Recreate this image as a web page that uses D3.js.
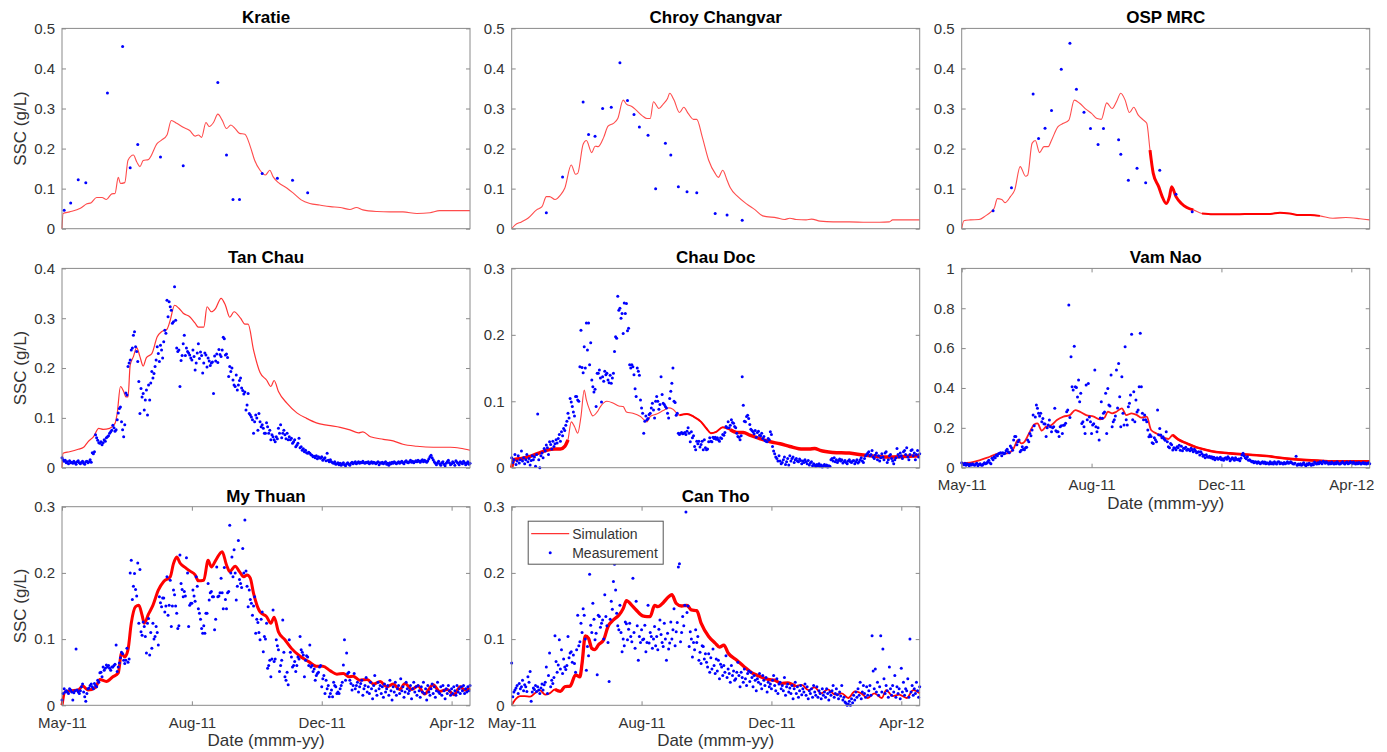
<!DOCTYPE html>
<html>
<head>
<meta charset="utf-8">
<script src="https://cdn.jsdelivr.net/npm/d3@7"></script>
<style>
  body { margin: 0; background: #fff; }
  svg { display: block; font-family: "Liberation Sans", Arial, Helvetica, sans-serif; }
</style>
</head>
<body>
<svg id="chart" width="1387" height="752"></svg>
<script>
// ============================================================================
// DATA  (day = days since 1 May 2011, values in g/L)
// ============================================================================

const xTickDates = ["2011-05-01", "2011-08-29", "2011-12-27", "2012-04-25"];

const ticks05 = [0, 0.1, 0.2, 0.3, 0.4, 0.5];
const ticks04 = [0, 0.1, 0.2, 0.3, 0.4];
const ticks03 = [0, 0.1, 0.2, 0.3];
const ticks10 = [0, 0.2, 0.4, 0.6, 0.8, 1];

// --- simulation lines -------------------------------------------------------
const kratieSimDays = [0,1,7,17,23,27,32,37,41,46,49,52,54,58,61,66,69,72,75,80,88,92,97,101,106,112,118,123,126,129,133,136,140,144,148,152,156,160,164,169,174,178,183,188,192,195,200,208,214,221,229,238,248,257,266,272,278,291,303,315,328,340,349,362,377];
const kratieSimVals = [0,.038,.042,.051,.062,.065,.078,.078,.073,.087,.088,.128,.113,.115,.171,.184,.167,.155,.170,.173,.213,.221,.234,.270,.263,.253,.245,.231,.234,.228,.265,.255,.265,.286,.271,.250,.259,.250,.238,.236,.205,.171,.146,.134,.146,.130,.115,.101,.088,.072,.063,.059,.055,.053,.048,.053,.047,.043,.042,.042,.038,.040,.045,.045,.045];

const chroySimDays = [0,3,9,15,23,28,32,35,40,45,49,55,59,61,66,69,74,77,80,85,89,94,98,103,106,111,115,121,125,128,131,136,140,144,146,150,155,159,163,168,171,176,182,188,191,195,199,202,209,217,225,232,245,252,257,263,272,277,285,297,312,328,340,349,352,365,377];
const chroySimVals = [0,.009,.017,.026,.047,.055,.080,.080,.073,.084,.101,.159,.136,.138,.211,.220,.190,.206,.205,.228,.256,.263,.275,.321,.311,.305,.296,.281,.275,.275,.317,.300,.311,.325,.338,.321,.290,.303,.288,.273,.273,.230,.171,.138,.128,.146,.121,.102,.080,.062,.047,.032,.027,.023,.026,.023,.022,.024,.019,.017,.017,.016,.016,.017,.022,.022,.022];

const ospSimDays = [0,2,8,16,22,27,30,33,37,40,45,49,54,59,61,65,68,72,76,80,83,89,94,99,104,109,115,120,125,129,134,139,143,147,151,155,159,163,168,171,174,177,182,185,189,192,194,198,203,208,214,222,232,254,269,285,294,303,312,322,331,343,355,368,377];
const ospSimVals = [0,.020,.022,.023,.032,.042,.051,.075,.073,.065,.080,.097,.155,.131,.134,.213,.220,.190,.205,.205,.221,.255,.263,.271,.321,.313,.298,.288,.275,.273,.314,.300,.317,.338,.321,.290,.303,.284,.271,.263,.196,.138,.105,.082,.063,.080,.105,.080,.063,.053,.047,.038,.036,.036,.037,.037,.040,.038,.034,.034,.032,.026,.028,.025,.022];

const tanChauSimDays = [0,1,7,15,20,24,29,34,38,44,49,51,54,57,59,61,63,66,69,72,75,78,83,88,92,97,100,104,108,112,118,123,126,131,134,138,142,147,151,155,159,165,169,172,177,183,189,193,196,200,208,217,226,235,246,257,266,274,278,285,297,306,315,328,343,359,368,377];
const tanChauSimVals = [0,.029,.032,.037,.041,.052,.062,.079,.077,.079,.089,.109,.163,.153,.142,.142,.206,.223,.241,.223,.204,.221,.229,.263,.273,.278,.296,.326,.320,.310,.303,.290,.282,.282,.323,.313,.320,.340,.326,.302,.313,.300,.288,.288,.236,.191,.176,.163,.175,.153,.129,.110,.099,.090,.085,.081,.076,.070,.072,.062,.057,.054,.047,.043,.041,.041,.039,.035];

const chauDocSimDays = [0,2,9,17,25,32,40,45,49,52,55,58,61,64,67,69,72,75,79,82,88,94,99,103,106,112,119,125,128,134,140,145,149,155,162,168,175,180,184,189,195,202,208,214,220,229,239,248,257,269,275,280,285,297,312,325,337,349,362,377];
const chauDocSimVals = [0,.012,.014,.017,.022,.026,.028,.028,.032,.042,.069,.062,.052,.077,.117,.102,.087,.078,.084,.092,.100,.097,.093,.092,.084,.082,.077,.069,.077,.081,.086,.090,.088,.079,.081,.077,.069,.059,.052,.054,.061,.057,.053,.053,.049,.044,.039,.036,.032,.028,.028,.029,.026,.023,.022,.019,.017,.016,.017,.018];

const vamNaoSimDays = [0,8,17,26,35,42,48,52,55,58,63,67,70,74,78,83,88,94,100,105,109,115,122,128,132,135,139,143,148,152,157,162,166,171,175,180,186,191,195,200,208,217,226,235,248,260,269,282,294,306,319,331,346,362,377];
const vamNaoSimVals = [.022,.025,.038,.055,.072,.072,.097,.139,.122,.130,.181,.217,.222,.186,.206,.214,.239,.256,.264,.289,.281,.264,.256,.242,.251,.281,.273,.281,.298,.264,.273,.264,.251,.256,.189,.172,.152,.144,.164,.142,.122,.102,.089,.079,.072,.067,.064,.059,.050,.043,.038,.035,.032,.032,.032];

const myThuanSimDays = [0,3,9,15,19,24,31,35,41,47,52,55,58,61,64,68,71,74,76,80,84,89,94,100,103,106,109,114,118,123,126,131,135,138,142,148,152,155,160,164,168,171,174,177,183,189,193,196,200,206,212,220,228,235,241,248,254,260,265,269,275,282,288,294,300,306,312,317,323,329,335,343,349,356,362,368,372,377];
const myThuanSimVals = [0,.021,.022,.023,.029,.023,.027,.039,.036,.043,.049,.079,.073,.084,.124,.149,.151,.136,.124,.138,.151,.174,.187,.194,.214,.224,.215,.208,.203,.197,.188,.189,.219,.209,.219,.232,.212,.202,.210,.202,.194,.197,.192,.169,.141,.134,.124,.133,.111,.099,.086,.074,.066,.059,.059,.052,.047,.048,.043,.044,.038,.039,.032,.036,.028,.032,.024,.033,.024,.029,.017,.031,.021,.024,.016,.028,.023,.026];

const canThoSimDays = [0,3,8,12,17,22,26,31,35,40,45,49,54,59,63,65,68,71,74,77,80,85,89,94,99,103,106,111,115,121,125,128,132,135,140,145,148,152,157,162,166,171,175,182,188,192,196,200,208,215,222,229,237,243,249,255,262,268,274,280,286,292,299,305,311,317,323,329,335,342,346,352,358,365,371,377];
const canThoSimVals = [0,.008,.014,.014,.013,.019,.023,.016,.018,.024,.021,.028,.029,.046,.043,.063,.105,.101,.086,.084,.091,.099,.119,.129,.136,.146,.158,.151,.144,.135,.134,.134,.151,.149,.155,.164,.167,.154,.150,.151,.144,.143,.124,.104,.094,.088,.091,.079,.068,.058,.049,.044,.039,.038,.033,.034,.029,.031,.023,.027,.018,.024,.016,.018,.011,.021,.018,.011,.018,.011,.023,.014,.016,.011,.023,.018];

// --- sparse measurements ----------------------------------------------------
const kratieObsDays = [2,8,15,22,42,56,63,70,91,112,144,152,158,164,185,199,213,227];
const kratieObsVals = [.046,.064,.122,.115,.339,.455,.152,.210,.179,.157,.365,.184,.073,.073,.138,.126,.121,.090];

const chroyObsDays = [32,47,66,71,77,84,92,100,107,113,118,126,133,142,147,154,162,171,188,199,213];
const chroyObsVals = [.040,.129,.316,.235,.231,.300,.303,.414,.320,.285,.254,.233,.100,.213,.184,.105,.092,.090,.038,.034,.021];

const ospObsDays = [29,46,66,71,77,83,92,100,106,113,119,126,131,145,147,154,162,170,183,198,213];
const ospObsVals = [.045,.102,.336,.225,.251,.295,.398,.463,.348,.291,.250,.210,.250,.222,.186,.121,.151,.115,.146,.086,.042];

// --- daily measurements (day 0 .. 377) --------------------------------------
const tanChauObs = [
  .02,.016,.013,.015,.01,.012,.008,.014,.01,.011, .009,.013,.01,.007,.012,.014,.01,.008,.011,.013,
  .009,.007,.012,.013,.01,.012,.016,.011,.03,.028, .032,.066,.06,.055,.05,.049,.052,.046,.05,.056,
  .053,.06,.062,.064,.069,.072,.075,.085,.08,.073, .076,.096,.11,.119,.122,.092,.076,.062,.086,.15,
  .146,.203,.21,.216,.236,.24,.266,.273,.243,.233, .213,.173,.109,.159,.142,.149,.116,.136,.156,.106,
  .166,.136,.17,.193,.18,.189,.203,.216,.243,.229, .213,.246,.236,.22,.253,.276,.27,.336,.303,.333,
  .323,.316,.29,.293,.363,.296,.24,.233,.236,.163, .215,.225,.249,.266,.225,.24,.233,.23,.226,.22,
  .216,.236,.223,.196,.21,.23,.249,.219,.232,.225, .19,.21,.23,.226,.202,.22,.214,.205,.21,.212,
  .149,.224,.214,.228,.211,.237,.227,.223,.236,.262, .259,.226,.228,.221,.183,.203,.193,.2,.176,.166,
  .163,.186,.156,.166,.175,.18,.16,.155,.148,.152, .116,.126,.149,.109,.106,.102,.096,.069,.092,.106,
  .1,.075,.109,.092,.082,.086,.079,.069,.069,.09, .082,.069,.075,.056,.066,.062,.056,.052,.062,.058,
  .079,.069,.086,.06,.069,.075,.066,.058,.069,.056, .062,.056,.059,.049,.052,.056,.042,.045,.049,.059,
  .04,.042,.035,.038,.032,.035,.03,.029,.031,.029, .026,.025,.022,.023,.02,.024,.018,.022,.02,.019,
  .022,.015,.018,.02,.014,.029,.015,.012,.016,.012, .01,.009,.012,.007,.008,.01,.006,.009,.005,.008,
  .01,.006,.004,.008,.01,.007,.005,.009,.011,.008, .01,.012,.008,.01,.012,.009,.011,.01,.013,.01,
  .009,.011,.01,.012,.008,.01,.012,.009,.011,.01, .008,.01,.012,.006,.01,.009,.011,.008,.01,.012,
  .007,.009,.005,.01,.008,.011,.009,.012,.01,.008, .01,.012,.009,.011,.013,.01,.008,.012,.014,.011,
  .01,.012,.015,.011,.013,.01,.012,.014,.012,.015, .013,.011,.014,.016,.012,.015,.013,.011,.014,.018,
  .022,.025,.02,.016,.012,.009,.006,.01,.013,.008, .005,.01,.012,.007,.004,.009,.012,.015,.01,.006,
  .008,.012,.01,.005,.014,.011,.009,.006,.012,.01, .008,.013,.01,.006,.009,.012,.007,.009
];

const chauDocObs = [
  .015,.008,.012,.02,.005,.01,.018,.007,.012,.025, .01,.015,.006,.012,.02,.009,.014,.004,.011,.018,
  .012,.016,.002,.02,.081,.012,0,.018,.022,.015, .029,.025,.034,.03,.02,.039,.035,.028,.04,.032,
  .036,.042,.037,.044,.05,.04,.054,.048,.059,.056, .064,.07,.082,.075,.104,.099,.092,.084,.078,.107,
  .107,.102,.1,.152,.207,.151,.143,.182,.15,.218, .177,.218,.155,.188,.132,.122,.114,.118,.092,.142,
  .142,.147,.135,.099,.137,.13,.145,.14,.142,.132, .128,.139,.127,.135,.142,.175,.197,.195,.258,.237,
  .24,.225,.232,.202,.248,.232,.247,.206,.21,.155, .15,.155,.152,.14,.119,.107,.15,.145,.139,.102,
  .09,.082,.052,.07,.078,.072,.074,.08,.082,.09, .097,.087,.075,.1,.107,.1,.088,.095,.137,.11,
  .097,.095,.092,.09,.082,.075,.104,.115,.127,.15, .1,.098,.079,.082,.052,.05,.052,.053,.051,.052,
  .053,.05,.055,.06,.052,.039,.054,.045,.048,.032, .027,.04,.036,.04,.031,.035,.04,.027,.042,.03,
  .027,.028,.039,.045,.04,.039,.046,.044,.046,.043, .045,.042,.04,.045,.044,.05,.049,.053,.062,.06,
  .069,.06,.064,.072,.068,.067,.062,.06,.052,.047, .046,.042,.048,.137,.094,.07,.069,.077,.079,.074,
  .065,.058,.056,.054,.051,.056,.046,.053,.055,.049, .048,.052,.044,.047,.041,.04,.039,.044,.042,.054,
  .05,.032,.025,.021,.016,.014,.01,.018,.01,.006, .008,.012,.016,.005,.009,.014,.004,.018,.01,.014,
  .016,.008,.012,.014,.01,.009,.013,.011,.006,.01, .008,.012,.009,.006,.011,.004,.007,.009,.003,.006,
  .004,.002,.005,.003,.006,.002,.004,.001,.003,.005, .002,.004,.001,.003,.002,.012,.014,.01,.015,.009,
  .012,.008,.011,.013,.01,.012,.007,.009,.011,.008, .006,.01,.012,.009,.008,.01,.011,.006,.009,.012,
  .007,.009,.012,.015,.01,.008,.014,.018,.02,.022, .024,.018,.02,.026,.016,.014,.019,.022,.012,.018,
  .01,.015,.021,.016,.012,.022,.024,.008,.012,.018, .02,.014,.01,.006,.012,.015,.029,.02,.016,.022,
  .018,.014,.024,.026,.02,.03,.016,.012,.02,.026, .027,.018,.022,.012,.02,.026,.016,.021
];

const vamNaoObs = [
  .025,.018,.015,.022,.012,.02,.016,.01,.018,.014, .02,.015,.012,.018,.022,.01,.016,.02,.014,.012,
  .018,.025,.02,.022,.03,.038,.025,.02,.047,.04, .055,.05,.064,.06,.07,.072,.075,.06,.075,.07,
  .072,.085,.092,.08,.075,.109,.1,.088,.139,.156, .156,.115,.13,.139,.08,.088,.105,.092,.09,.1,
  .102,.139,.13,.172,.16,.189,.264,.21,.255,.314, .298,.273,.26,.273,.23,.247,.22,.219,.156,.2,
  .214,.239,.206,.181,.2,.206,.298,.186,.18,.181, .156,.205,.21,.172,.213,.214,.223,.281,.29,.816,
  .252,.557,.406,.39,.61,.406,.402,.355,.44,.331, .373,.222,.23,.206,.172,.415,.24,.423,.255,.23,
  .172,.214,.22,.49,.205,.18,.2,.139,.25,.331, .248,.273,.28,.373,.172,.398,.315,.31,.465,.206,
  .23,.24,.26,.49,.3,.523,.356,.205,.456,.273, .214,.607,.24,.214,.306,.323,.365,.669,.24,.381,
  .23,.34,.28,.29,.406,.674,.406,.273,.24,.264, .24,.23,.189,.155,.165,.156,.125,.122,.15,.14,
  .13,.289,.165,.197,.164,.15,.155,.145,.138,.18, .13,.105,.1,.122,.115,.089,.1,.097,.09,.105,
  .1,.113,.088,.107,.085,.097,.096,.103,.088,.092, .09,.085,.098,.09,.08,.092,.085,.075,.078,.08,
  .064,.08,.07,.058,.062,.05,.065,.055,.052,.058, .05,.055,.045,.052,.04,.048,.05,.042,.046,.052,
  .04,.045,.038,.047,.05,.043,.055,.048,.035,.042, .05,.045,.038,.05,.042,.04,.044,.035,.048,.064,
  .072,.06,.05,.045,.055,.038,.04,.035,.03,.032, .025,.03,.028,.022,.03,.025,.02,.026,.03,.022,
  .028,.02,.025,.022,.018,.03,.02,.025,.019,.03, .022,.018,.028,.03,.02,.025,.022,.018,.026,.02,
  .024,.03,.022,.025,.03,.025,.02,.018,.022,.058, .012,.018,.015,.02,.012,.018,.025,.015,.01,.02,
  .015,.022,.018,.012,.02,.015,.028,.022,.018,.025, .02,.03,.025,.02,.032,.028,.022,.03,.025,.018,
  .025,.02,.028,.022,.018,.025,.02,.03,.022,.018, .02,.025,.03,.022,.018,.025,.028,.02,.022,.03,
  .025,.02,.028,.022,.018,.025,.02,.026,.022,.018, .022,.026,.02,.024,.018,.022,.025,.02
];

const myThuanObs = [
  .008,.018,.025,.02,.022,.02,.018,.025,.023,.02, .008,.019,.022,.085,.023,.02,.018,.022,.028,.032,
  .02,.013,.006,.018,.025,.026,.03,.032,.028,.025, .033,.03,.028,.038,.035,.049,.05,.043,.058,.053,
  .056,.061,.058,.06,.056,.053,.058,.058,.06,.062, .091,.051,.058,.064,.072,.08,.078,.068,.063,.068,
  .086,.065,.07,.2,.219,.16,.18,.199,.175,.165, .215,.124,.205,.111,.106,.126,.119,.104,.079,.124,
  .131,.076,.11,.086,.124,.1,.104,.119,.11,.091, .164,.155,.149,.162,.162,.141,.15,.194,.136,.151,
  .189,.119,.15,.174,.167,.15,.139,.116,.12,.227, .184,.175,.164,.172,.165,.223,.2,.119,.151,.154,
  .154,.174,.165,.157,.194,.18,.146,.139,.13,.116, .109,.12,.109,.139,.139,.184,.159,.17,.172,.164,
  .164,.114,.13,.209,.164,.165,.17,.192,.17,.146, .208,.16,.146,.17,.172,.272,.2,.224,.194,.235,
  .2,.159,.18,.249,.19,.184,.178,.237,.2,.28, .203,.18,.149,.174,.16,.154,.136,.15,.164,.109,
  .13,.125,.11,.099,.13,.141,.081,.104,.1,.124, .056,.06,.068,.043,.07,.144,.066,.07,.099,.09,
  .084,.051,.06,.068,.129,.08,.043,.038,.05,.031, .099,.08,.073,.058,.06,.066,.051,.06,.073,.07,
  .104,.084,.08,.076,.043,.068,.075,.073,.06,.091, .058,.06,.051,.055,.038,.045,.048,.05,.058,.06,
  .028,.04,.045,.018,.038,.025,.03,.013,.018,.023, .013,.035,.03,.028,.018,.02,.018,.025,.03,.035,
  .061,.099,.038,.079,.048,.05,.038,.033,.023,.03, .048,.025,.03,.035,.02,.028,.033,.038,.015,.025,
  .03,.042,.02,.028,.018,.035,.025,.01,.03,.045, .022,.015,.035,.025,.03,.018,.028,.012,.032,.02,
  .025,.03,.015,.038,.022,.008,.028,.02,.035,.015, .025,.03,.018,.04,.022,.028,.012,.02,.035,.025,
  .018,.022,.03,.01,.025,.035,.02,.028,.015,.03, .022,.012,.028,.02,.035,.018,.025,.008,.03,.02,
  .015,.025,.032,.018,.028,.012,.022,.035,.02,.018, .028,.015,.03,.022,.01,.025,.018,.03,.022,.015,
  .025,.018,.028,.022,.015,.03,.02,.025,.018,.028, .022,.03,.018,.025,.02,.028,.022,.03
];

const canThoObs = [
  .064,.013,.02,.023,.026,.03,.018,.033,.025,.028, .038,.022,.031,.028,.021,.043,.035,.051,.006,.02,
  .026,.024,.03,.021,.028,.023,.018,.026,.032,.023, .031,.035,.058,.018,.045,.079,.028,.038,.033,.042,
  .105,.066,.05,.061,.099,.055,.084,.048,.07,.058, .054,.06,.104,.072,.079,.081,.065,.076,.063,.05,
  .084,.136,.09,.096,.124,.11,.146,.136,.1,.053, .089,.075,.198,.121,.11,.154,.13,.099,.109,.046,
  .136,.134,.118,.124,.129,.1,.167,.134,.12,.095, .036,.13,.157,.145,.187,.213,.174,.139,.12,.114,
  .151,.11,.081,.1,.09,.126,.123,.099,.115,.124, .104,.096,.192,.11,.086,.157,.12,.068,.104,.095,
  .114,.099,.1,.121,.081,.095,.151,.094,.11,.104, .086,.1,.119,.09,.104,.084,.115,.129,.107,.095,
  .089,.124,.1,.068,.109,.085,.094,.126,.1,.114, .146,.09,.111,.125,.209,.214,.096,.11,.134,.12,
  .151,.292,.14,.15,.089,.111,.1,.073,.095,.084, .114,.095,.104,.068,.08,.063,.09,.089,.07,.078,
  .065,.058,.078,.05,.072,.055,.085,.06,.048,.07, .052,.068,.04,.062,.058,.045,.06,.05,.075,.042,
  .055,.048,.035,.06,.045,.052,.038,.04,.05,.065, .045,.028,.05,.042,.035,.055,.04,.03,.048,.052,
  .036,.05,.042,.028,.045,.038,.022,.04,.035,.048, .032,.025,.045,.038,.03,.042,.02,.035,.028,.032,
  .025,.038,.045,.03,.022,.04,.018,.032,.035,.025, .03,.022,.042,.015,.028,.032,.02,.026,.018,.03,
  .01,.025,.035,.018,.028,.012,.022,.03,.016,.025, .02,.032,.015,.028,.01,.022,.018,.025,.012,.03,
  .02,.015,.028,.012,.022,.018,.01,.025,.015,.02, .012,.025,.018,.008,.02,.015,.022,.03,.012,.018,
  .025,.016,.01,.02,.014,.03,.008,.012,.005,.003, 0,.002,.006,0,.01,.004,.015,.008,.02,.012,
  .025,.015,.035,.01,.02,.03,.018,.012,.028,.015, .022,.03,.015,.105,.052,.025,.055,.02,.035,.015,
  .028,.105,.02,.085,.04,.018,.03,.022,.012,.058, .025,.015,.03,.02,.045,.012,.028,.018,.025,.01,
  .056,.02,.035,.015,.025,.022,.04,.012,.1,.02, .03,.015,.025,.018,.035,.022,.012,.028
];

// ============================================================================
// LAYOUT
// ============================================================================

const colX = [62, 511.7, 961.7];
const rowY = [28.4, 268.4, 506.7];
const rowH = [200.3, 199.3, 198.6];
const plotW = 408;

const COLORS = { sim: '#ff0000', obs: '#0000ff', axis: '#8a8a8a', text: '#333333', title: '#000000' };

const toPairs = (days, vals) => days.map((d, i) => [d, vals[i]]);
const daily = vals => vals.map((v, i) => [i, v]);

const panels = [
  { name: 'Kratie', col: 0, row: 0, yTicks: ticks05, sim: toPairs(kratieSimDays, kratieSimVals), obs: toPairs(kratieObsDays, kratieObsVals), lw: 1.1, op: 0.7, thick: [] },
  { name: 'Chroy Changvar', col: 1, row: 0, yTicks: ticks05, sim: toPairs(chroySimDays, chroySimVals), obs: toPairs(chroyObsDays, chroyObsVals), lw: 1.1, op: 0.7, thick: [] },
  { name: 'OSP MRC', col: 2, row: 0, yTicks: ticks05, sim: toPairs(ospSimDays, ospSimVals), obs: toPairs(ospObsDays, ospObsVals), lw: 1.1, op: 0.7, thick: [[172, 214, 3], [222, 340, 2]] },
  { name: 'Tan Chau', col: 0, row: 1, yTicks: ticks04, sim: toPairs(tanChauSimDays, tanChauSimVals), obs: daily(tanChauObs), lw: 1.2, op: 0.8, thick: [] },
  { name: 'Chau Doc', col: 1, row: 1, yTicks: ticks03, sim: toPairs(chauDocSimDays, chauDocSimVals), obs: daily(chauDocObs), lw: 1.1, op: 0.75, thick: [[0, 53, 3.5], [150, 205, 2], [202, 377, 3.5]] },
  { name: 'Vam Nao', col: 2, row: 1, yTicks: ticks10, sim: toPairs(vamNaoSimDays, vamNaoSimVals), obs: daily(vamNaoObs), lw: 1.8, op: 0.9, thick: [[195, 377, 2.6]], xAxis: true },
  { name: 'My Thuan', col: 0, row: 2, yTicks: ticks03, sim: toPairs(myThuanSimDays, myThuanSimVals), obs: daily(myThuanObs), lw: 3, op: 1, thick: [], xAxis: true },
  { name: 'Can Tho', col: 1, row: 2, yTicks: ticks03, sim: toPairs(canThoSimDays, canThoSimVals), obs: daily(canThoObs), lw: 1.8, op: 1, thick: [[38, 262, 3.3]], xAxis: true, legend: true },
];

// ============================================================================
// RENDER
// ============================================================================

const START = Date.UTC(2011, 4, 1);
const toDate = d => new Date(START + d * 864e5);
const x = d3.scaleUtc().domain([toDate(0), toDate(377)]).range([0, plotW]);
const xTicks = xTickDates.map(s => new Date(s + 'T00:00:00Z'));
const fmtDate = d3.utcFormat('%b-%y');

const svg = d3.select('#chart');

panels.forEach(p => {
  const h = rowH[p.row];
  const g = svg.append('g').attr('transform', `translate(${colX[p.col]},${rowY[p.row]})`);
  const y = d3.scaleLinear().domain([0, p.yTicks[p.yTicks.length - 1]]).range([h, 0]);

  const line = d3.line()
    .curve(d3.curveMonotoneX)
    .x(d => x(toDate(d[0])))
    .y(d => y(d[1]));

  g.append('path')
    .datum(p.sim)
    .attr('d', line)
    .attr('fill', 'none')
    .attr('stroke', COLORS.sim)
    .attr('stroke-width', p.lw)
    .attr('stroke-opacity', p.op)
    .attr('stroke-linejoin', 'round');

  // tidal band parts of the simulation drawn heavier
  p.thick.forEach(([a, b, w]) => {
    g.append('path')
      .datum(p.sim.filter(d => d[0] >= a && d[0] <= b))
      .attr('d', line)
      .attr('fill', 'none')
      .attr('stroke', COLORS.sim)
      .attr('stroke-width', w)
      .attr('stroke-linejoin', 'round');
  });

  g.selectAll('circle.obs')
    .data(p.obs)
    .join('circle')
    .attr('class', 'obs')
    .attr('cx', d => x(toDate(d[0])))
    .attr('cy', d => y(d[1]))
    .attr('r', 1.5)
    .attr('fill', COLORS.obs);

  // box
  g.append('rect')
    .attr('width', plotW).attr('height', h)
    .attr('fill', 'none').attr('stroke', COLORS.axis).attr('stroke-width', 1);

  const styleAxis = sel => {
    sel.select('.domain').remove();
    sel.selectAll('line').attr('stroke', COLORS.axis);
    sel.selectAll('text').attr('fill', COLORS.text).style('font-size', '15px');
  };

  g.append('g')
    .call(d3.axisLeft(y).tickValues(p.yTicks).tickFormat(d => String(d)).tickSize(-4).tickPadding(7))
    .call(styleAxis);
  g.append('g').attr('transform', `translate(${plotW},0)`)
    .call(d3.axisRight(y).tickValues(p.yTicks).tickFormat('').tickSize(-4))
    .call(styleAxis);

  if (p.xAxis) {
    g.append('g').attr('transform', `translate(0,${h})`)
      .call(d3.axisBottom(x).tickValues(xTicks).tickFormat(fmtDate).tickSize(-4).tickPadding(12))
      .call(styleAxis);
    g.append('g')
      .call(d3.axisTop(x).tickValues(xTicks).tickFormat('').tickSize(-4))
      .call(styleAxis);
    g.append('text')
      .attr('x', plotW / 2).attr('y', h + 41)
      .attr('text-anchor', 'middle')
      .attr('fill', COLORS.text)
      .style('font-size', '17px')
      .text('Date (mmm-yy)');
  }

  g.append('text')
    .attr('x', plotW / 2).attr('y', -5)
    .attr('text-anchor', 'middle')
    .attr('fill', COLORS.title)
    .style('font-size', '17px').style('font-weight', 'bold')
    .text(p.name);

  if (p.col === 0) {
    g.append('text')
      .attr('transform', `translate(-36,${h / 2}) rotate(-90)`)
      .attr('text-anchor', 'middle')
      .attr('fill', COLORS.text)
      .style('font-size', '17px')
      .text('SSC (g/L)');
  }

  if (p.legend) {
    const lg = g.append('g').attr('transform', 'translate(16.5,14.5)');
    lg.append('rect').attr('width', 135).attr('height', 43)
      .attr('fill', '#fff').attr('stroke', '#555').attr('stroke-width', 1);
    lg.append('line').attr('x1', 3).attr('x2', 41).attr('y1', 12.5).attr('y2', 12.5)
      .attr('stroke', COLORS.sim).attr('stroke-width', 1.2).attr('stroke-opacity', 0.8);
    lg.append('circle').attr('cx', 22).attr('cy', 31.5).attr('r', 1.5).attr('fill', COLORS.obs);
    lg.append('text').attr('x', 44).attr('y', 17.5).attr('fill', COLORS.text).style('font-size', '14px').text('Simulation');
    lg.append('text').attr('x', 44).attr('y', 36.5).attr('fill', COLORS.text).style('font-size', '14px').text('Measurement');
  }
});
</script>
</body>
</html>
